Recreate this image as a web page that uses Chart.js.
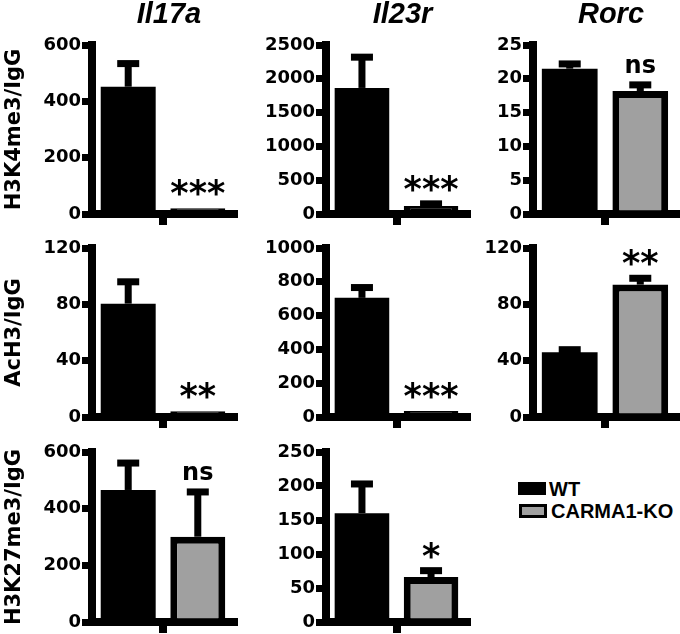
<!DOCTYPE html>
<html>
<head>
<meta charset="utf-8">
<script src="https://cdn.jsdelivr.net/npm/chart.js@4/dist/chart.umd.min.js"></script>
<style>
  body { margin: 0; background: #fff; }
  #wrap { position: relative; width: 680px; height: 634px; }
  #wrap canvas { position: absolute; }
  .leg { position: absolute; font: bold 20px "Liberation Sans"; line-height: 20px; color: #000; white-space: nowrap; }
  .sw { position: absolute; box-sizing: border-box; }
</style>
</head>
<body>
<div id="wrap">
  <div class="sw" style="left:518px;top:482px;width:28px;height:13px;background:#000"></div>
  <div class="leg" style="left:549px;top:479px">WT</div>
  <div class="sw" style="left:519px;top:504px;width:28px;height:14px;background:#a0a0a0;border:3px solid #000"></div>
  <div class="leg" style="left:551px;top:501px">CARMA1-KO</div>
</div>
<script>
const groups = ['WT', 'CARMA1-KO'];
const genes = ['Il17a', 'Il23r', 'Rorc'];
const marks = ['H3K4me3/IgG', 'AcH3/IgG', 'H3K27me3/IgG'];

// H3K4me3 row
const k4WT = [452, 1865, 21.5];
const k4WTerr = [82, 455, 0.7];
const k4KO = [20, 120, 18.2];
const k4KOerr = [0, 30, 0.9];
const k4Max = [600, 2500, 25];
const k4Step = [200, 500, 5];
const k4Sig = ['***', '***', 'ns'];

// AcH3 row
const acWT = [80.5, 705, 46];
const acWTerr = [15.5, 61, 1.8];
const acKO = [4, 35, 94];
const acKOerr = [0, 0, 4.5];
const acMax = [120, 1000, 120];
const acStep = [40, 200, 40];
const acSig = ['**', '***', '**'];

// H3K27me3 row (no Rorc panel)
const k27WT = [466, 160];
const k27WTerr = [95, 43];
const k27KO = [301, 66];
const k27KOerr = [158, 9.5];
const k27Max = [600, 250];
const k27Step = [200, 50];
const k27Sig = ['ns', '*'];

// panel grid
const colLeft = [0, 240, 472], colWidth = [240, 232, 208], yAxisW = [92, 86, 61], padRight = [6, 5, 3];
const rowTop = [0, 232, 432], rowHeight = [232, 200, 202], padTop = [45, 16, 20], xAxisH = [18, 15, 12];

// error bars, significance marks and gene titles
const deco = {
  id: 'deco',
  afterDatasetsDraw(chart) {
    const ctx = chart.ctx, y = chart.scales.y;
    chart.data.datasets.forEach((ds, i) => {
      chart.getDatasetMeta(i).data.forEach((bar, j) => {
        if (!ds.sem[j]) return;
        const top = y.getPixelForValue(ds.data[j] + ds.sem[j]);
        ctx.save();
        ctx.fillStyle = '#000';
        ctx.fillRect(bar.x - 3.5, top, 7, bar.y - top);
        ctx.fillRect(bar.x - 11, top - 3.5, 22, 7);
        ctx.restore();
      });
    });
  },
  afterDraw(chart, args, opts) {
    const ctx = chart.ctx, y = chart.scales.y, area = chart.chartArea;
    ctx.save();
    ctx.fillStyle = '#000';
    ctx.textAlign = 'center';
    ctx.textBaseline = 'alphabetic';
    if (opts.gene) {
      ctx.font = 'bold italic 29px "Liberation Sans"';
      ctx.fillText(opts.gene, (area.left + area.right) / 2 + 6, 23);
    }
    const ko = chart.data.datasets[1];
    const bar = chart.getDatasetMeta(1).data[0];
    const bottom = y.getPixelForValue(ko.data[0] + ko.sem[0]) - 12;
    ctx.font = opts.sig.includes('*') ? 'bold 35px "DejaVu Sans"' : 'bold 24px "DejaVu Sans"';
    const m = ctx.measureText(opts.sig);
    ctx.fillText(opts.sig, bar.x, bottom - m.actualBoundingBoxDescent);
    ctx.restore();
  }
};

function panel(row, col, wt, wtErr, ko, koErr, max, step, sig) {
  const cv = document.createElement('canvas');
  cv.width = colWidth[col];
  cv.height = rowHeight[row];
  cv.style.left = colLeft[col] + 'px';
  cv.style.top = rowTop[row] + 'px';
  document.getElementById('wrap').appendChild(cv);

  new Chart(cv.getContext('2d'), {
    type: 'bar',
    data: {
      labels: [''],
      datasets: [
        { label: groups[0], data: [wt], sem: [wtErr], backgroundColor: '#000', borderWidth: 0 },
        {
          label: groups[1], data: [ko], sem: [koErr],
          // a bar thinner than its outline is all outline
          backgroundColor: c => (c.raw < max * 0.06 ? '#000' : '#a0a0a0'),
          borderColor: '#000', borderWidth: 7
        }
      ]
    },
    options: {
      responsive: false,
      animation: false,
      devicePixelRatio: 1,
      layout: { padding: { top: padTop[row], right: padRight[col], bottom: 0, left: 0 } },
      datasets: { bar: { categoryPercentage: 0.98, barPercentage: 0.79 } },
      plugins: {
        legend: { display: false },
        tooltip: { enabled: false },
        deco: { gene: row === 0 ? genes[col] : null, sig: sig }
      },
      scales: {
        x: {
          z: 1,
          ticks: { display: false },
          grid: { offset: false, drawOnChartArea: false, tickLength: 11, lineWidth: 8, color: '#000' },
          border: { display: true, width: 8, color: '#000' },
          afterFit: s => { s.height = xAxisH[row]; }
        },
        y: {
          min: 0,
          max: max,
          ticks: {
            stepSize: step,
            color: '#000',
            padding: 1,
            font: { family: 'DejaVu Sans', weight: 'bold', size: 18 },
            callback: v => String(v)
          },
          grid: { drawOnChartArea: false, tickLength: 10, lineWidth: 7, color: '#000' },
          border: { display: true, width: 8, color: '#000' },
          title: {
            display: col === 0,
            text: marks[row],
            color: '#000',
            font: { family: 'DejaVu Sans', weight: 'bold', size: 21, lineHeight: 1 },
            padding: { top: 4, bottom: 0 }
          },
          afterFit: s => { s.width = yAxisW[col]; }
        }
      }
    },
    plugins: [deco]
  });
}

for (let c = 0; c < 3; c++) {
  panel(0, c, k4WT[c], k4WTerr[c], k4KO[c], k4KOerr[c], k4Max[c], k4Step[c], k4Sig[c]);
  panel(1, c, acWT[c], acWTerr[c], acKO[c], acKOerr[c], acMax[c], acStep[c], acSig[c]);
}
for (let c = 0; c < 2; c++) {
  panel(2, c, k27WT[c], k27WTerr[c], k27KO[c], k27KOerr[c], k27Max[c], k27Step[c], k27Sig[c]);
}
</script>
</body>
</html>
